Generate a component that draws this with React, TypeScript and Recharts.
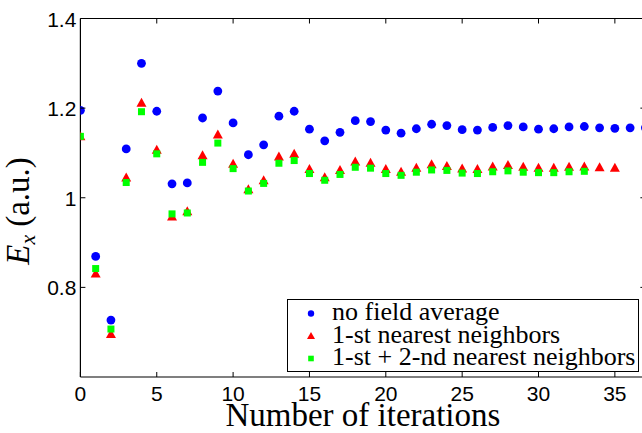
import { Legend, Scatter, ScatterChart, XAxis, YAxis } from 'recharts'

// E_x per iteration, index = iteration number
const noFieldAverage = [
  1.195, 0.869, 0.727, 1.109, 1.3, 1.193, 1.031, 1.033, 1.178, 1.238,
  1.167, 1.096, 1.118, 1.182, 1.193, 1.153, 1.127, 1.146, 1.172, 1.17,
  1.151, 1.144, 1.154, 1.164, 1.161, 1.152, 1.151, 1.157, 1.161, 1.158,
  1.153, 1.154, 1.158, 1.159, 1.156, 1.155, 1.156, 1.156,
]
const firstNeighbors = [
  1.137, 0.831, 0.696, 1.045, 1.212, 1.107, 0.958, 0.97, 1.095, 1.141,
  1.076, 1.019, 1.039, 1.092, 1.098, 1.064, 1.046, 1.062, 1.081, 1.078,
  1.064, 1.058, 1.067, 1.075, 1.071, 1.065, 1.064, 1.07, 1.073, 1.069,
  1.067, 1.067, 1.069, 1.07, 1.068, 1.067,
]
const secondNeighbors = [
  1.137, 0.842, 0.707, 1.034, 1.192, 1.098, 0.964, 0.966, 1.079, 1.122,
  1.065, 1.015, 1.032, 1.077, 1.083, 1.054, 1.039, 1.052, 1.068, 1.066,
  1.054, 1.05, 1.057, 1.062, 1.061, 1.055, 1.054, 1.058, 1.06, 1.057,
  1.056, 1.056, 1.058, 1.059,
]
const seriesNames = ['no field average', '1-st nearest neighbors', '1-st + 2-nd nearest neighbors']
const iterTicks = [0, 5, 10, 15, 20, 25, 30, 35]
const fieldTicks = [0.8, 1, 1.2, 1.4]

const toPoints = (values: number[]) => values.map((y, x) => ({ x, y }))

const SANS = '"Liberation Sans", Arial, sans-serif'
const SERIF = '"Liberation Serif", "Times New Roman", serif'
const TICK = 5

const BottomTick = ({ x, y, payload }: any) => (
  <g>
    <line x1={x} x2={x} y1={y} y2={y - TICK} stroke="#000" />
    <text x={x} y={y + 24} textAnchor="middle" style={{ fontFamily: SANS, fontSize: 21 }} fill="#000">
      {payload.value}
    </text>
  </g>
)
const TopTick = ({ x, y }: any) => <line x1={x} x2={x} y1={y} y2={y + TICK} stroke="#000" />
const LeftTick = ({ x, y, payload }: any) => (
  <g>
    <line x1={x} x2={x + TICK} y1={y} y2={y} stroke="#000" />
    <text x={x - 4} y={y + 8} textAnchor="end" style={{ fontFamily: SANS, fontSize: 21 }} fill="#000">
      {payload.value}
    </text>
  </g>
)
const RightTick = ({ x, y }: any) => <line x1={x} x2={x - TICK} y1={y} y2={y} stroke="#000" />

const Dot = ({ cx, cy, fill }: any) => <circle cx={cx} cy={cy} r={4.4} fill={fill} />
const Triangle = ({ cx, cy, fill }: any) => (
  <polygon points={`${cx},${cy - 5} ${cx - 5},${cy + 4} ${cx + 5},${cy + 4}`} fill={fill} />
)
const Square = ({ cx, cy, fill }: any) => <rect x={cx - 3.5} y={cy - 3.5} width={7} height={7} fill={fill} />

const legendMarker = (type: string, cx: number, cy: number, color: string) => {
  if (type === 'circle') return <circle cx={cx} cy={cy} r={3.2} fill={color} />
  if (type === 'triangle')
    return <polygon points={`${cx},${cy - 4} ${cx - 4},${cy + 3} ${cx + 4},${cy + 3}`} fill={color} />
  return <rect x={cx - 2.8} y={cy - 2.8} width={5.6} height={5.6} fill={color} />
}

// legend entries kept in series order, not alphabetical
const LegendBox = ({ payload }: any) => {
  const entries = [...(payload ?? [])].sort(
    (a: any, b: any) => seriesNames.indexOf(a.value) - seriesNames.indexOf(b.value),
  )
  return (
    <svg width={352} height={73} style={{ display: 'block', overflow: 'visible' }}>
      <rect x={0.5} y={0.5} width={351} height={72} fill="#fff" stroke="#000" />
      {entries.map((entry: any, i: number) => {
        const cy = 14.5 + i * 22.5
        return (
          <g key={entry.value}>
            {legendMarker(entry.type, 24, cy, entry.color)}
            <text x={45} y={cy + 6.5} style={{ fontFamily: SERIF, fontSize: 26 }} fill="#000">
              {entry.value}
            </text>
          </g>
        )
      })}
    </svg>
  )
}

const axisLine = { stroke: '#000', strokeWidth: 1.2 }

export default function App() {
  return (
    <div style={{ position: 'absolute', left: 0, top: 0, width: 642, height: 433, overflow: 'hidden', background: '#fff' }}>
      <ScatterChart width={660} height={433} margin={{ top: 8.5, right: 4.6, bottom: 0, left: 0.4 }}>
        <XAxis
          xAxisId="bottom"
          type="number"
          dataKey="x"
          domain={[0, 37]}
          ticks={iterTicks}
          allowDataOverflow
          height={56}
          axisLine={axisLine}
          tickLine={false}
          tickSize={0}
          tickMargin={0}
          tick={<BottomTick />}
          label={({ viewBox }: any) => (
            <text
              x={viewBox.x + viewBox.width / 2}
              y={viewBox.y + 49}
              textAnchor="middle"
              style={{ fontFamily: SERIF, fontSize: 33 }}
              fill="#000"
            >
              Number of iterations
            </text>
          )}
        />
        <XAxis
          xAxisId="top"
          orientation="top"
          type="number"
          dataKey="x"
          domain={[0, 37]}
          ticks={iterTicks.slice(1)}
          allowDataOverflow
          height={10}
          axisLine={axisLine}
          tickLine={false}
          tickSize={0}
          tickMargin={0}
          tick={<TopTick />}
        />
        <YAxis
          yAxisId="left"
          type="number"
          dataKey="y"
          domain={[0.6, 1.4]}
          ticks={fieldTicks}
          allowDataOverflow
          width={80}
          axisLine={axisLine}
          tickLine={false}
          tickSize={0}
          tickMargin={0}
          tick={<LeftTick />}
          label={({ viewBox }: any) => {
            // reads bottom-to-top, starting near the lower third of the axis
            const bx = 29
            const by = viewBox.y + viewBox.height / 2 + 67
            return (
              <text
                x={bx}
                y={by}
                transform={`rotate(-90, ${bx}, ${by})`}
                textAnchor="start"
                style={{ fontFamily: SERIF, fontSize: 33 }}
                fill="#000"
              >
                <tspan fontStyle="italic">E</tspan>
                <tspan fontStyle="italic" style={{ fontSize: 22 }} dy={6}>
                  x
                </tspan>
                <tspan dy={-6} dx={8}>
                  (a.u.)
                </tspan>
              </text>
            )
          }}
        />
        <YAxis
          yAxisId="right"
          orientation="right"
          type="number"
          dataKey="y"
          domain={[0.6, 1.4]}
          ticks={fieldTicks}
          allowDataOverflow
          width={10}
          axisLine={axisLine}
          tickLine={false}
          tickSize={0}
          tickMargin={0}
          tick={<RightTick />}
        />
        <Legend
          layout="vertical"
          align="center"
          verticalAlign="middle"
          content={<LegendBox />}
          wrapperStyle={{ position: 'absolute', left: 287, top: 299, width: 352, height: 73 }}
        />
        <Scatter
          name={seriesNames[0]}
          data={toPoints(noFieldAverage)}
          xAxisId="bottom"
          yAxisId="left"
          fill="#0000ff"
          legendType="circle"
          shape={<Dot />}
          isAnimationActive={false}
        />
        <Scatter
          name={seriesNames[1]}
          data={toPoints(firstNeighbors)}
          xAxisId="bottom"
          yAxisId="left"
          fill="#ff0000"
          legendType="triangle"
          shape={<Triangle />}
          isAnimationActive={false}
        />
        <Scatter
          name={seriesNames[2]}
          data={toPoints(secondNeighbors)}
          xAxisId="bottom"
          yAxisId="left"
          fill="#00ff00"
          legendType="square"
          shape={<Square />}
          isAnimationActive={false}
        />
      </ScatterChart>
    </div>
  )
}
